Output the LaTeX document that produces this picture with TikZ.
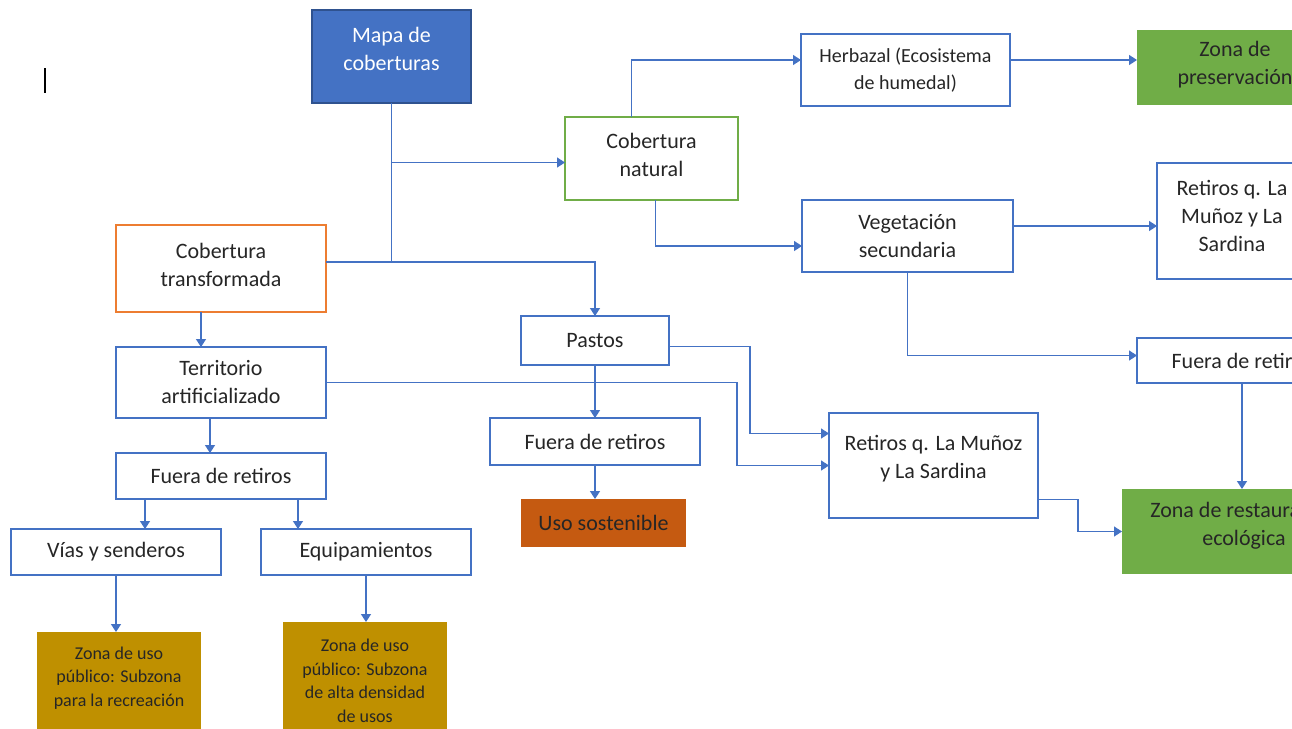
\documentclass[tikz,border=0pt]{standalone}
\usepackage{fontspec}
\setmainfont{Carlito}
\usetikzlibrary{arrows.meta}

\definecolor{lineblue}{HTML}{4472C4}
\definecolor{mapaedge}{HTML}{2F528F}
\definecolor{natgreen}{HTML}{70AD47}
\definecolor{transforange}{HTML}{ED7D31}
\definecolor{gold}{HTML}{BF9000}
\definecolor{rust}{HTML}{C55A11}
\definecolor{txt}{HTML}{262626}

% extra depth under the last line, lifts the text in its box
\newcommand{\dn}[1]{\rule[-#1]{0pt}{#1}}

\begin{document}
\begin{tikzpicture}[x=0.5pt, y=-0.5pt,
    box/.style={draw=lineblue, line width=0.7pt, fill=white, inner sep=0pt, outer sep=0pt,
        align=center, text=txt, font=\fontsize{11}{14}\selectfont},
    sz/.style 2 args={minimum width=#1*0.5pt, minimum height=#2*0.5pt},
    zone/.style={box, draw=none, fill=#1},
    link/.style={draw=lineblue, line width=0.75pt},
    arr/.style={link, -{Triangle[length=4pt, width=5pt]}}]

    \useasboundingbox (0,0) rectangle (1292,729);
    \clip (0,0) rectangle (1292,729);

    % cursor mark
    \draw[black, line width=1pt] (45,68) -- (45,93);

    % top and right
    \node[box, fill=lineblue, draw=mapaedge, text=white, sz={159}{93}] (mapa) at (391.5,56.5) {Mapa de\\coberturas\dn{8pt}};
    \node[box, draw=natgreen, sz={173}{83}] (natural) at (651.5,158.5) {Cobertura\\natural\dn{4pt}};
    \node[box, sz={209}{72}, font=\fontsize{10}{13.5}\selectfont] (herbazal) at (905.5,70) {Herbazal (Ecosistema\\de humedal)};
    \node[zone=natgreen, sz={196}{75}] (preserv) at (1235,67.5) {Zona de\\preservación\dn{5pt}};
    \node[box, sz={211}{72}] (veget) at (907.5,236) {Vegetación\\secundaria};
    \node[box, sz={150}{116}] (retR) at (1232,221) {Retiros q. La\\Muñoz y La\\Sardina\dn{5pt}};
    \node[box, sz={210}{45}] (fueraR) at (1242,360.5) {Fuera de retiros};
    \node[zone=natgreen, sz={244}{85}] (restaur) at (1244,531.5) {Zona de restauración\\ecológica\dn{7.5pt}};

    % left
    \node[box, draw=transforange, sz={210}{87}] (transf) at (221,268.5) {Cobertura\\transformada\dn{3.5pt}};
    \node[box, sz={210}{71}] (territ) at (221,382.5) {Territorio\\artificializado};
    \node[box, sz={210}{46}] (fueraL) at (221,476) {Fuera de retiros};
    \node[box, sz={210}{46}] (vias) at (116,552) {Vías y senderos};
    \node[box, sz={210}{46}] (equip) at (366,552) {Equipamientos};
    \node[zone=gold, sz={164}{106}, font=\fontsize{9}{11.75}\selectfont] (recre) at (119,685) {Zona de uso\\público: Subzona\\para la recreación\dn{8.5pt}};
    \node[zone=gold, sz={164}{118}, font=\fontsize{9}{11.75}\selectfont] (alta) at (365,681) {Zona de uso\\público: Subzona\\de alta densidad\\de usos};

    % middle
    \node[box, sz={148}{49}] (pastos) at (595,340.5) {Pastos};
    \node[box, sz={210}{47}] (fueraM) at (595,441.5) {Fuera de retiros};
    \node[zone=rust, sz={165}{48}] (uso) at (603.5,523) {Uso sostenible};
    \node[box, sz={209}{105}] (retM) at (933.5,465.5) {Retiros q. La Muñoz\\y La Sardina\dn{8.5pt}};

    % connectors from the map
    \coordinate (split) at (391.5,262);
    \draw[arr] (mapa.south) |- ([yshift=-2pt]natural.west);
    \draw[link] (mapa.south) -- (split);
    \draw[arr] (transf.east |- split) -| (pastos.north);

    % natural cover
    \draw[arr] ([xshift=-10pt]natural.north) |- ([yshift=5pt]herbazal.west);
    \draw[arr] ([xshift=2pt]natural.south) |- ([yshift=-5pt]veget.west);
    \draw[arr] ([yshift=5pt]herbazal.east) -- ([yshift=5pt]herbazal.east -| preserv.west);
    \draw[arr] ([yshift=5pt]veget.east) -- ([yshift=5pt]veget.east -| retR.west);
    \draw[arr] (veget.south) |- ([yshift=2.5pt]fueraR.west);
    \draw[arr] (fueraR.south) -- (fueraR.south |- restaur.north);
    \draw[arr] ([yshift=-17pt]retM.east) -- ++(40,0) |- (restaur.west);

    % pastures
    \draw[arr] ([yshift=-3pt]pastos.east) -- ++(81,0) |- ([yshift=16pt]retM.west);
    \draw[arr] (territ.east) -- ++(411,0) |- (retM.west);
    \draw[arr] (pastos.south) -- (fueraM.north);
    \draw[arr] (fueraM.south) -- (fueraM.south |- uso.north);

    % transformed cover
    \draw[arr] ([xshift=-10pt]transf.south) -- ([xshift=-10pt]territ.north);
    \draw[arr] ([xshift=-5.5pt]territ.south) -- ([xshift=-5.5pt]fueraL.north);
    \draw[arr] ([xshift=-38pt]fueraL.south) -- ([xshift=-38pt]fueraL.south |- vias.north);
    \draw[arr] ([xshift=38.5pt]fueraL.south) -- ([xshift=38.5pt]fueraL.south |- equip.north);
    \draw[arr] (vias.south) -- (vias.south |- recre.north);
    \draw[arr] (equip.south) -- (equip.south |- alta.north);
\end{tikzpicture}
\end{document}
